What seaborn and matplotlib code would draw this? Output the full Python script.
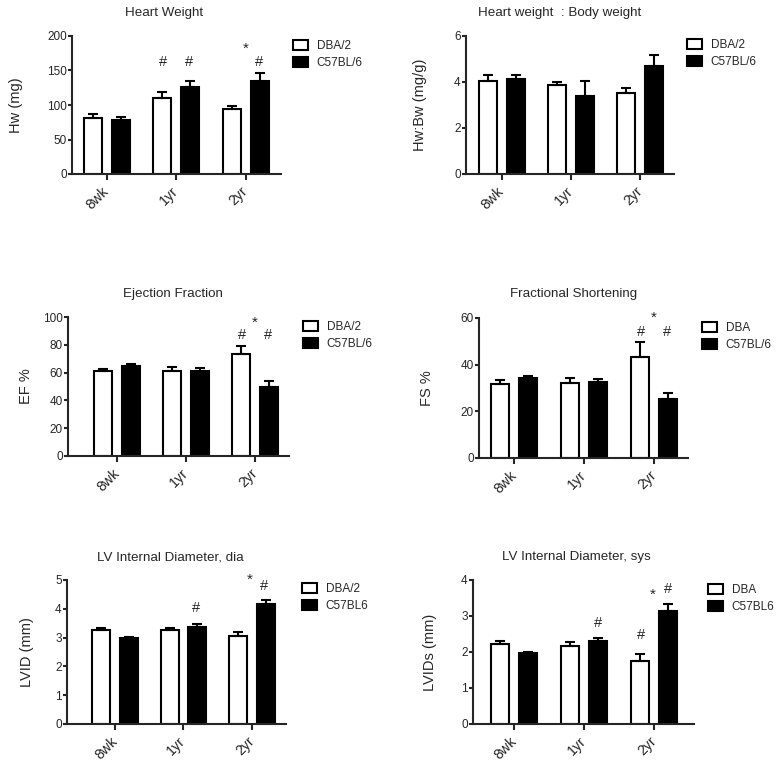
import numpy as np
import pandas as pd
import matplotlib
matplotlib.use("Agg")
import matplotlib.pyplot as plt
from matplotlib.patches import Patch
import seaborn as sns

# ---------------- data ----------------
categories = ["8wk", "1yr", "2yr"]

hw_dba = [81, 110, 94]
hw_dba_err = [5.5, 9, 5]
hw_c57 = [78, 126.5, 135]
hw_c57_err = [4, 9, 11]

hwbw_dba = [4.06, 3.87, 3.53]
hwbw_dba_err = [0.25, 0.14, 0.19]
hwbw_c57 = [4.12, 3.38, 4.70]
hwbw_c57_err = [0.20, 0.66, 0.49]

ef_dba = [60.8, 61.1, 73.5]
ef_dba_err = [2.0, 3.0, 5.3]
ef_c57 = [64.4, 61.5, 49.7]
ef_c57_err = [1.7, 2.0, 4.2]

fs_dba = [31.8, 32.3, 43.4]
fs_dba_err = [1.6, 2.0, 6.1]
fs_c57 = [34.1, 32.6, 25.3]
fs_c57_err = [1.0, 1.3, 2.4]

lvid_dba = [3.25, 3.27, 3.04]
lvid_dba_err = [0.09, 0.06, 0.15]
lvid_c57 = [2.99, 3.38, 4.15]
lvid_c57_err = [0.03, 0.09, 0.15]

lvids_dba = [2.22, 2.18, 1.75]
lvids_dba_err = [0.08, 0.11, 0.19]
lvids_c57 = [1.96, 2.31, 3.14]
lvids_c57_err = [0.03, 0.09, 0.18]

# ---------------- style ----------------
sns.set_style("ticks")
plt.rcParams["font.family"] = ["Liberation Sans", "DejaVu Sans"]
plt.rcParams["axes.linewidth"] = 1.5

W, H = 784, 767
fig = plt.figure(figsize=(W / 100, H / 100), dpi=100)
fig.patch.set_facecolor("white")

panels = [
    dict(title="Heart Weight", ylabel="Hw (mg)", strains=("DBA/2", "C57BL/6"),
         dba=hw_dba, dba_err=hw_dba_err, c57=hw_c57, c57_err=hw_c57_err,
         yticks=[0, 50, 100, 150, 200],
         box=(72, 36, 174), xlim=(-0.5, 2.5), unit=69.5,
         title_xy=(164, 13), ylab_x=23, leg=(293, 40),
         marks=[(0.81, 162, "#"), (1.19, 162, "#"), (2.0, 182, "*"), (2.19, 162, "#")]),
    dict(title="Heart weight  : Body weight", ylabel="Hw:Bw (mg/g)", strains=("DBA/2", "C57BL/6"),
         dba=hwbw_dba, dba_err=hwbw_dba_err, c57=hwbw_c57, c57_err=hwbw_c57_err,
         yticks=[0, 2, 4, 6],
         box=(466, 36, 174), xlim=(-0.52, 2.5), unit=69,
         title_xy=(560, 13), ylab_x=427, leg=(687, 39), marks=[]),
    dict(title="Ejection Fraction", ylabel="EF %", strains=("DBA/2", "C57BL/6"),
         dba=ef_dba, dba_err=ef_dba_err, c57=ef_c57, c57_err=ef_c57_err,
         yticks=[0, 20, 40, 60, 80, 100],
         box=(68, 317, 456), xlim=(-0.71, 2.49), unit=69,
         title_xy=(173, 294), ylab_x=33, leg=(303, 321),
         marks=[(1.81, 87, "#"), (2.0, 96, "*"), (2.19, 87, "#")]),
    dict(title="Fractional Shortening", ylabel="FS %", strains=("DBA", "C57BL/6"),
         dba=fs_dba, dba_err=fs_dba_err, c57=fs_c57, c57_err=fs_c57_err,
         yticks=[0, 20, 40, 60],
         box=(479, 318, 458), xlim=(-0.5, 2.49), unit=70,
         title_xy=(574, 294), ylab_x=434, leg=(702, 322),
         marks=[(1.81, 53.9, "#"), (2.0, 60.3, "*"), (2.19, 53.9, "#")]),
    dict(title="LV Internal Diameter, dia", ylabel="LVID (mm)", strains=("DBA/2", "C57BL6"),
         dba=lvid_dba, dba_err=lvid_dba_err, c57=lvid_c57, c57_err=lvid_c57_err,
         yticks=[0, 1, 2, 3, 4, 5],
         box=(67, 580, 724), xlim=(-0.70, 2.5), unit=68.5,
         title_xy=(170, 557), ylab_x=34, leg=(302, 583),
         marks=[(1.19, 4.04, "#"), (1.97, 5.0, "*"), (2.17, 4.80, "#")]),
    dict(title="LV Internal Diameter, sys", ylabel="LVIDs (mm)", strains=("DBA", "C57BL6"),
         dba=lvids_dba, dba_err=lvids_dba_err, c57=lvids_c57, c57_err=lvids_c57_err,
         yticks=[0, 1, 2, 3, 4],
         box=(473, 580, 724), xlim=(-0.59, 2.56), unit=70,
         title_xy=(576, 557), ylab_x=437, leg=(708, 584),
         marks=[(1.19, 2.81, "#"), (1.81, 2.47, "#"), (1.98, 3.58, "*"), (2.19, 3.75, "#")]),
]

for p in panels:
    left, top, bottom = p["box"]
    width = (p["xlim"][1] - p["xlim"][0]) * p["unit"]
    ax = fig.add_axes([left / W, 1 - bottom / H, width / W, (bottom - top) / H])

    s1, s2 = p["strains"]
    df = pd.DataFrame({
        "age": categories * 2,
        "strain": [s1] * 3 + [s2] * 3,
        "value": list(p["dba"]) + list(p["c57"]),
    })
    errs = {}
    for i, c in enumerate(categories):
        errs[(c, s1)] = p["dba_err"][i]
        errs[(c, s2)] = p["c57_err"][i]

    sns.barplot(data=df, x="age", y="value", hue="strain", order=categories,
                hue_order=[s1, s2], palette={s1: "white", s2: "black"},
                saturation=1, width=0.8, gap=0.35, dodge=True,
                edgecolor="black", linewidth=1.5, errorbar=None,
                legend=False, ax=ax)

    # upper error bars from the bar patches
    bars = sorted([b for b in ax.patches], key=lambda b: b.get_x())
    order = [(c, s) for c in categories for s in (s1, s2)]
    for b, key in zip(bars, order):
        xc = b.get_x() + b.get_width() / 2
        h = b.get_height()
        ax.errorbar([xc], [h], yerr=[[0], [errs[key]]], fmt="none",
                    ecolor="black", elinewidth=1.5, capsize=3.3, capthick=1.5,
                    zorder=1)

    ax.set_xlim(*p["xlim"])
    ax.set_ylim(p["yticks"][0], p["yticks"][-1])
    ax.set_yticks(p["yticks"])
    ax.set_xlabel("")
    ax.set_ylabel(p["ylabel"], fontsize=10.5)
    ax.yaxis.set_label_coords((p["ylab_x"] - left) / width, 0.5)
    ax.yaxis.label.set_va("bottom")
    sns.despine(ax=ax)
    ax.spines["left"].set_linewidth(1.5)
    ax.spines["bottom"].set_linewidth(1.5)
    ax.tick_params(axis="y", length=3, width=1.5, pad=0.8, labelsize=8.5)
    ax.tick_params(axis="x", length=4, width=1.5, pad=7, labelsize=10.2)
    for lab in ax.get_xticklabels():
        lab.set_rotation(45)
        lab.set_ha("right")
        lab.set_va("center")
        lab.set_rotation_mode("anchor")

    tx, ty = p["title_xy"]
    ax.set_title(p["title"], fontsize=9.6, x=(tx - left) / width,
                 y=(bottom - ty) / (bottom - top), va="center", ha="center", pad=0)

    for (mx, my, mt) in p["marks"]:
        ax.text(mx, my, mt, ha="center", va="center",
                fontsize=11 if mt == "*" else 10.5, clip_on=False)

    handles = [Patch(facecolor="white", edgecolor="black", linewidth=1.5),
               Patch(facecolor="black", edgecolor="black", linewidth=1.5)]
    lx, ly = p["leg"]
    ax.legend(handles, [s1, s2], loc="upper left",
              bbox_to_anchor=(lx / W, 1 - ly / H), bbox_transform=fig.transFigure,
              frameon=False, fontsize=8.5, handlelength=1.3, handleheight=0.95,
              handletextpad=0.7, labelspacing=0.4, borderpad=0, borderaxespad=0)

fig.savefig("out.png", dpi=100, facecolor="white")
